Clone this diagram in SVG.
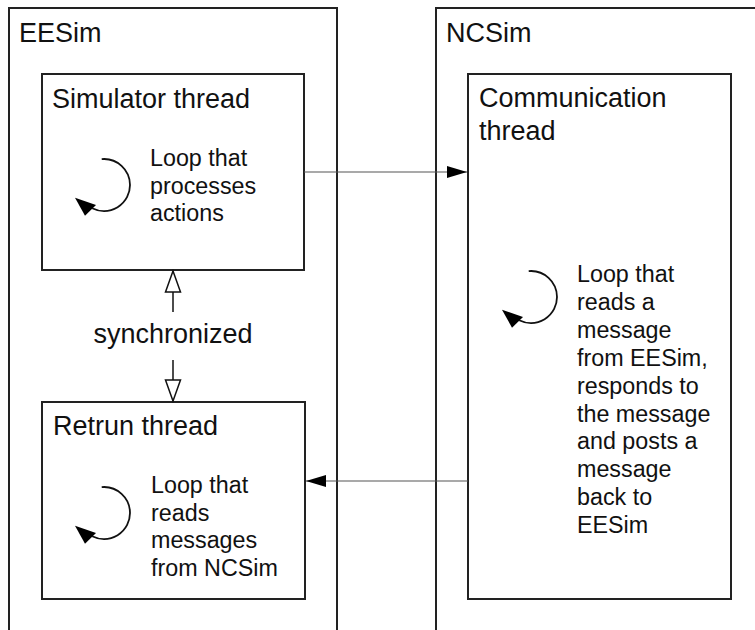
<svg xmlns="http://www.w3.org/2000/svg" width="755" height="630" viewBox="0 0 755 630">
  <style>
    .frame { fill: #fff; stroke: #222; stroke-width: 2; }
    .box { fill: #fff; stroke: #222; stroke-width: 2; }
    .conn { fill: none; stroke: #555; stroke-width: 1.2; }
    .sync { fill: none; stroke: #111; stroke-width: 1.5; }
    .loop { fill: none; stroke: #111; stroke-width: 1.8; }
    .title { font-family: "Liberation Sans", Arial, sans-serif; font-size: 27px; fill: #111; }
    .body { font-family: "Liberation Sans", Arial, sans-serif; font-size: 23.3px; fill: #111; }
  </style>
  <defs>
    <marker id="solid" viewBox="0 0 20 14" refX="20" refY="7" markerWidth="20" markerHeight="14" markerUnits="userSpaceOnUse" orient="auto">
      <path d="M0,1 L20,7 L0,13 Z" fill="#000"/>
    </marker>
    <marker id="hollow" viewBox="0 0 24 18" refX="22" refY="9" markerWidth="24" markerHeight="18" markerUnits="userSpaceOnUse" orient="auto">
      <path d="M1,1.5 L22,9 L1,16.5 Z" fill="#fff" stroke="#111" stroke-width="1.5"/>
    </marker>
    <!-- circular "loop" glyph: clockwise arc with a filled head -->
    <g id="loop">
      <path class="loop" d="M 101.7 159.1 A 26 26 0 0 1 130 185 A 26 26 0 0 1 92.2 208.2"/>
      <path d="M 75 197.7 L 85 215.7 L 96 205 Z" fill="#000"/>
    </g>
  </defs>

  <!-- process frames -->
  <g id="eesim">
    <rect class="frame" x="9" y="8" width="328" height="640"/>
    <text class="title" x="19" y="42">EESim</text>
  </g>
  <g id="ncsim">
    <rect class="frame" x="436" y="8" width="340" height="640"/>
    <text class="title" x="446" y="42">NCSim</text>
  </g>

  <!-- thread boxes -->
  <g id="simulator-thread">
    <rect class="box" x="42" y="74" width="262" height="196"/>
    <text class="title" x="52" y="108">Simulator thread</text>
    <use href="#loop"/>
    <text class="body" x="150" y="166">Loop that</text>
    <text class="body" x="150" y="193.5">processes</text>
    <text class="body" x="150" y="221">actions</text>
  </g>

  <g id="return-thread">
    <rect class="box" x="42" y="402" width="263" height="197"/>
    <text class="title" x="53" y="435">Retrun thread</text>
    <use href="#loop" transform="translate(0,328)"/>
    <text class="body" x="151" y="493">Loop that</text>
    <text class="body" x="151" y="520.7">reads</text>
    <text class="body" x="151" y="548.4">messages</text>
    <text class="body" x="151" y="576">from NCSim</text>
  </g>

  <g id="communication-thread">
    <rect class="box" x="468" y="74" width="263" height="525"/>
    <text class="title" x="479" y="107">Communication</text>
    <text class="title" x="479" y="139.5">thread</text>
    <use href="#loop" transform="translate(427,112)"/>
    <text class="body" x="577" y="282">Loop that</text>
    <text class="body" x="577" y="309.9">reads a</text>
    <text class="body" x="577" y="337.8">message</text>
    <text class="body" x="577" y="365.7">from EESim,</text>
    <text class="body" x="577" y="393.6">responds to</text>
    <text class="body" x="577" y="421.5">the message</text>
    <text class="body" x="577" y="449.4">and posts a</text>
    <text class="body" x="577" y="477.3">message</text>
    <text class="body" x="577" y="505.2">back to</text>
    <text class="body" x="577" y="533">EESim</text>
  </g>

  <!-- connectors -->
  <g id="connectors">
    <line class="conn" x1="304" y1="172" x2="467" y2="172" marker-end="url(#solid)"/>
    <line class="conn" x1="468" y1="481" x2="306" y2="481" marker-end="url(#solid)"/>
    <line class="sync" x1="173" y1="312" x2="173" y2="271" marker-end="url(#hollow)"/>
    <line class="sync" x1="173" y1="360" x2="173" y2="401" marker-end="url(#hollow)"/>
    <text class="title" x="173" y="343" text-anchor="middle">synchronized</text>
  </g>
</svg>
